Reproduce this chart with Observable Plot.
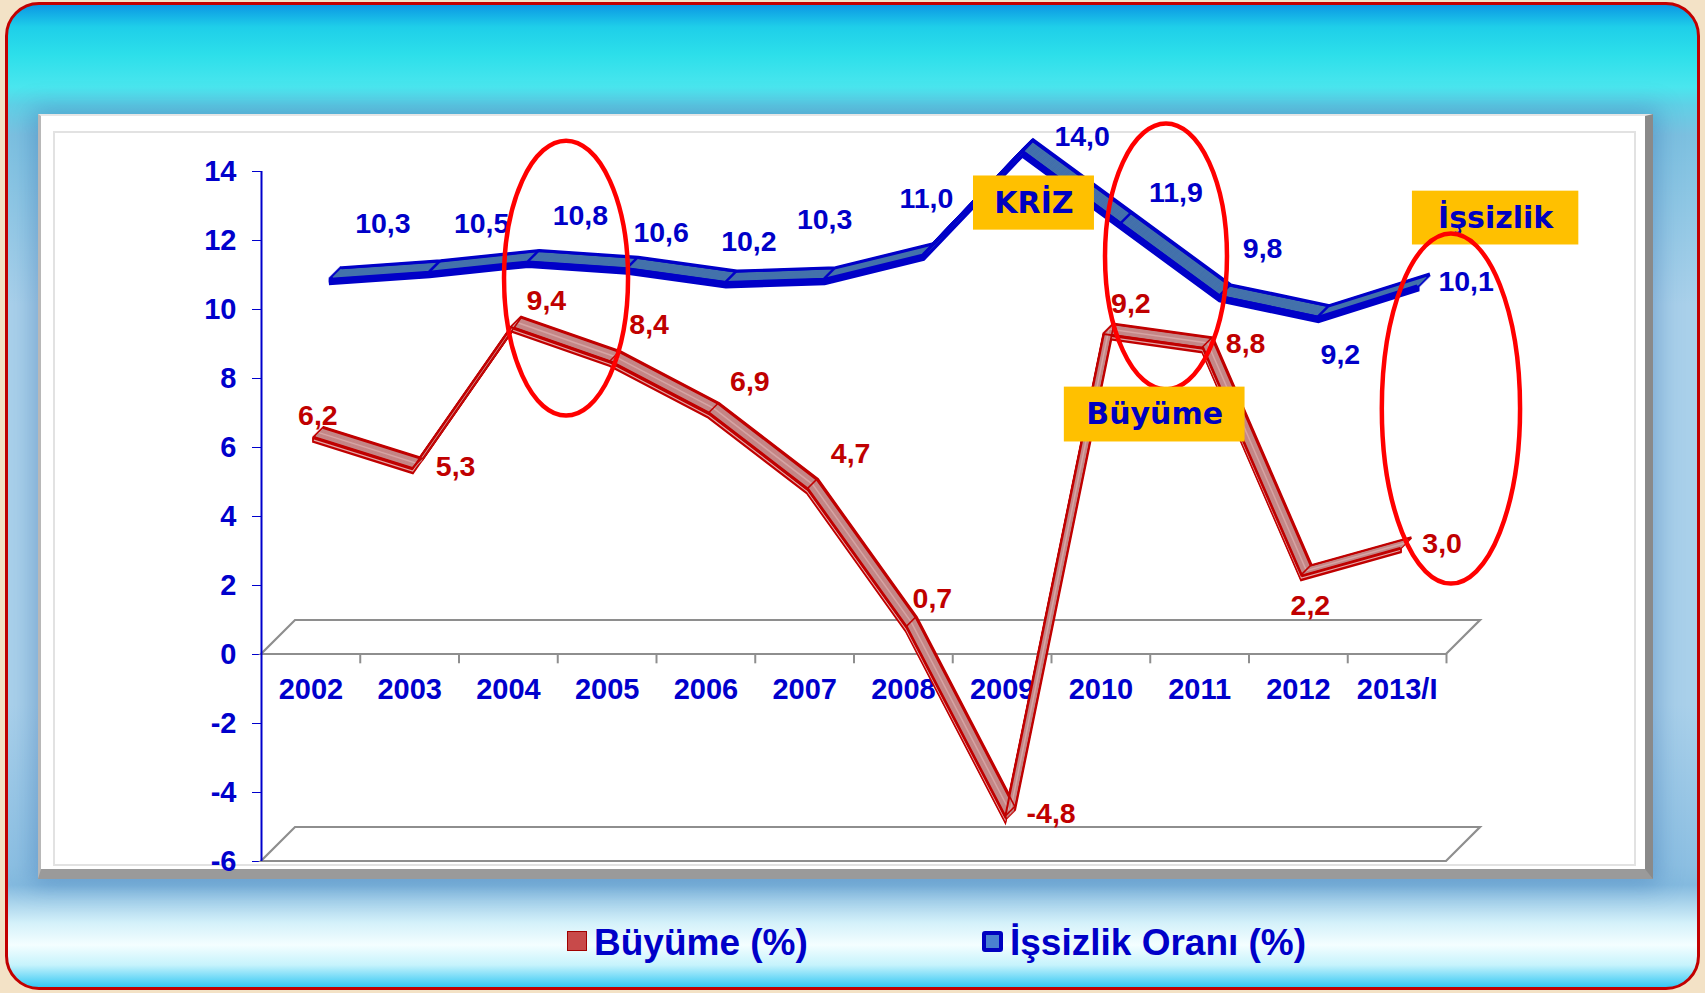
<!DOCTYPE html>
<html><head><meta charset="utf-8">
<script src="https://cdn.jsdelivr.net/npm/d3@7"></script>
<script src="https://cdn.jsdelivr.net/npm/@observablehq/plot@0.6"></script>
<style>
html,body{margin:0;padding:0;}
body{width:1705px;height:993px;overflow:hidden;position:relative;background:#f3e2c6;font-family:"Liberation Sans",Arial,sans-serif;}
#frame{position:absolute;left:5px;top:2px;width:1695px;height:988px;box-sizing:border-box;border:3px solid #c20000;border-radius:34px;
background:linear-gradient(to bottom,#0c98e4 0px,#1fcfe9 22px,#2ddfea 50px,#4ae6ee 82px,#5fd0e6 100px,#7cc0e0 130px,#a9d0ea 300px,#a9d0ea 700px,#8cbfe2 860px,#84badf 880px,#d4f1fa 918px,#f4feff 940px,#c6f3fc 960px,#1cc0f2 986px);}
#panel{position:absolute;left:38px;top:114px;width:1615px;height:765px;box-sizing:border-box;background:#fff;
border-style:solid;border-width:2px 8px 10px 3px;border-color:#e6e6e6 #8a8a8a #9a9a9a #b8b8b8;
box-shadow:0 0 22px 6px rgba(40,100,170,0.35);z-index:1;}
#inner{position:absolute;left:12px;top:15px;right:9px;bottom:3px;border:2px solid #e2e2e2;}
#chart{position:absolute;left:0;top:0;z-index:2;}
.leg{position:absolute;z-index:3;font-family:"Liberation Sans",Arial,sans-serif;font-weight:bold;font-size:37px;line-height:40px;color:#0000c8;white-space:nowrap;}
.sw{position:absolute;z-index:3;box-sizing:border-box;}
</style>
</head>
<body>
<div id="frame"></div>
<div id="panel"><div id="inner"></div></div>
<div id="chart"></div>
<div class="sw" style="left:567px;top:931px;width:20px;height:20px;background:#c84a4a;border:1px solid #a00000;"></div>
<div class="leg" style="left:594px;top:923px;">Büyüme (%)</div>
<div class="sw" style="left:982px;top:931px;width:21px;height:21px;background:#4a80d0;border:4px solid #0000c0;border-radius:3px;"></div>
<div class="leg" style="left:1010px;top:923px;">İşsizlik Oranı (%)</div>
<script>
// ---- data ----
const years = ["2002","2003","2004","2005","2006","2007","2008","2009","2010","2011","2012","2013/I"];
const buyume = [6.2, 5.3, 9.4, 8.4, 6.9, 4.7, 0.7, -4.8, 9.2, 8.8, 2.2, 3.0];
const issizlik = [10.3, 10.5, 10.8, 10.6, 10.2, 10.3, 11.0, 14.0, 11.9, 9.8, 9.2, 10.1];
const yTicks = [-6, -4, -2, 0, 2, 4, 6, 8, 10, 12, 14];
const floorLevels = [0, -6];
const callouts = [
  {text: "KRİZ", x1: 6.71, x2: 7.935, y1: 13.87, y2: 12.30},
  {text: "Büyüme", x1: 7.63, x2: 9.46, y1: 7.75, y2: 6.16},
  {text: "İşsizlik", x1: 11.155, x2: 12.84, y1: 13.43, y2: 11.87}
];
const highlights = [
  {x1: 1.961, x2: 3.217, y1: 14.88, y2: 6.91},
  {x1: 8.047, x2: 9.282, y1: 15.38, y2: 7.67},
  {x1: 10.85, x2: 12.25, y1: 12.19, y2: 2.04}
];
// label placement (pixel offsets from each point)
const issizlikLabelOffset = [[72,-75],[72,-68],[72,-66],[54,-56],[43,-61],[20,-79],[23,-76],[80,-35],[75,-51],[63,-68],[42,18],[69,-24]];
const buyumeLabelOffset = [[7,-25],[46,-5],[38,-29],[42,-40],[44,-35],[46,-38],[29,-31],[49,-6],[30,-33],[46,-7],[12,27],[45,-7]];

const xDomain = [-0.5, years.length - 0.5];
const fmt = v => v.toFixed(1).replace(".", ",");
const DEPTH = 34;

function ribbon(vals, o) {
  const pts = vals.map((v, i) => ({i, v}));
  const base = {x: "i", y: "v", strokeLinejoin: "miter", strokeMiterlimit: 8};
  const m = [];
  for (let k = o.k0; k <= o.k1; k++)
    m.push(Plot.line(pts, {...base, dx: k, dy: -k, stroke: o.dark, strokeWidth: o.w, strokeLinecap: "square"}));
  for (let t = 1; t <= o.t; t++)
    m.push(Plot.line(pts, {...base, dx: o.k0, dy: -o.k0 + t, stroke: o.dark, strokeWidth: o.w, strokeLinecap: "square"}));
  if (o.faceLight)
    m.push(Plot.line(pts, {...base, dx: o.k0, dy: -o.k0 + o.t / 2 + 0.5, stroke: o.faceLight, strokeWidth: 1.2, strokeLinecap: "butt"}));
  for (let k = o.k0 + 2; k <= o.k1 - 2; k++)
    m.push(Plot.line(pts, {...base, dx: k, dy: -k, stroke: o.light, strokeWidth: 2, strokeLinecap: "butt"}));
  if (o.stripe)
    m.push(Plot.line(pts, {...base, dx: (o.k0 + o.k1) / 2, dy: -(o.k0 + o.k1) / 2, stroke: o.stripe, strokeWidth: 1.5, strokeLinecap: "butt"}));
  m.push((index, scales) => {
    const g = d3.create("svg:g").attr("stroke", o.dark).attr("stroke-width", o.div);
    pts.slice(1, -1).forEach(p => {
      const px = scales.x(p.i), py = scales.y(p.v);
      g.append("line").attr("x1", px + o.k0).attr("y1", py - o.k0).attr("x2", px + o.k1).attr("y2", py - o.k1);
    });
    return g.node();
  });
  m.push(Plot.line(pts, {...base, dx: o.k0, dy: -o.k0, stroke: o.dark, strokeWidth: o.edge, strokeLinecap: "butt"}));
  m.push(Plot.line(pts, {...base, dx: o.k1, dy: -o.k1, stroke: o.dark, strokeWidth: o.edge * 0.8, strokeLinecap: "butt"}));
  return m;
}

function labels(vals, offs, color) {
  return vals.map((v, i) => Plot.text([{i, v}], {
    x: "i", y: "v", text: d => fmt(d.v), dx: offs[i][0], dy: offs[i][1],
    fill: color, fontSize: 28.5, fontWeight: "bold", fontFamily: "Liberation Sans, Arial, sans-serif"
  }));
}

function ellipseMark(list) {
  return (index, scales) => {
    const g = d3.create("svg:g").attr("fill", "none").attr("stroke", "#ff0000").attr("stroke-width", 4.5);
    list.forEach(e => {
      const a = scales.x(e.x1), b = scales.x(e.x2), c = scales.y(e.y1), d = scales.y(e.y2);
      g.append("ellipse").attr("cx", (a + b) / 2).attr("cy", (c + d) / 2)
        .attr("rx", Math.abs(b - a) / 2).attr("ry", Math.abs(d - c) / 2);
    });
    return g.node();
  };
}

const floorMark = (index, scales) => {
  const g = d3.create("svg:g").attr("fill", "none").attr("stroke", "#8e8e8e").attr("stroke-width", 2.2);
  floorLevels.forEach(v => {
    const a = scales.x(xDomain[0]), b = scales.x(xDomain[1]), y = scales.y(v);
    g.append("path").attr("d", `M${a},${y}L${b},${y}L${b + DEPTH},${y - DEPTH}L${a + DEPTH},${y - DEPTH}Z`);
  });
  return g.node();
};

const boundaries = years.map((d, i) => i + 0.5);

const chart = Plot.plot({
  width: 1705,
  height: 900,
  marginLeft: 261,
  marginRight: 259,
  marginTop: 171,
  marginBottom: 39,
  style: {background: "transparent", fontFamily: "Liberation Sans, Arial, sans-serif", fontSize: "29px", fontWeight: "bold", color: "#0000cc", overflow: "visible"},
  x: {domain: xDomain, axis: null},
  y: {domain: [yTicks[0], yTicks[yTicks.length - 1]], ticks: yTicks, tickSize: 9, tickPadding: 16, tickFormat: d => String(d), label: null},
  marks: [
    floorMark,
    Plot.ruleX(boundaries, {x: d => d, y1: () => 0, y2: () => -0.27, stroke: "#8e8e8e", strokeWidth: 2}),
    Plot.text(years, {x: (d, i) => i, y: () => 0, dy: 35, text: d => d, fill: "#0000cc", fontSize: 29, fontWeight: "bold"}),
    Plot.ruleX([xDomain[0]], {stroke: "#0000cc", strokeWidth: 2}),
    ...ribbon(issizlik, {k0: 20, k1: 31, t: 4, w: 4, edge: 3, div: 2.5, dark: "#0000c8", light: "#4472ab"}),
    ...ribbon(buyume, {k0: 3, k1: 13, t: 4, w: 3, edge: 2, div: 1.5, dark: "#c00000", light: "#c48787", stripe: "#d6a4a4", faceLight: "#e4a8a8"}),
    ...labels(issizlik, issizlikLabelOffset, "#0000c8"),
    ...labels(buyume, buyumeLabelOffset, "#c00000"),
    ellipseMark(highlights.slice(0, 2)),
    Plot.rect(callouts, {x1: "x1", x2: "x2", y1: "y1", y2: "y2", fill: "#ffc000"}),
    Plot.text(callouts, {x: d => (d.x1 + d.x2) / 2, y: d => (d.y1 + d.y2) / 2, text: "text", fill: "#0000c0", fontSize: 30, fontWeight: "bold", fontFamily: "DejaVu Sans, Verdana, sans-serif"}),
    ellipseMark(highlights.slice(2))
  ]
});
document.getElementById("chart").appendChild(chart);
</script>
</body></html>
